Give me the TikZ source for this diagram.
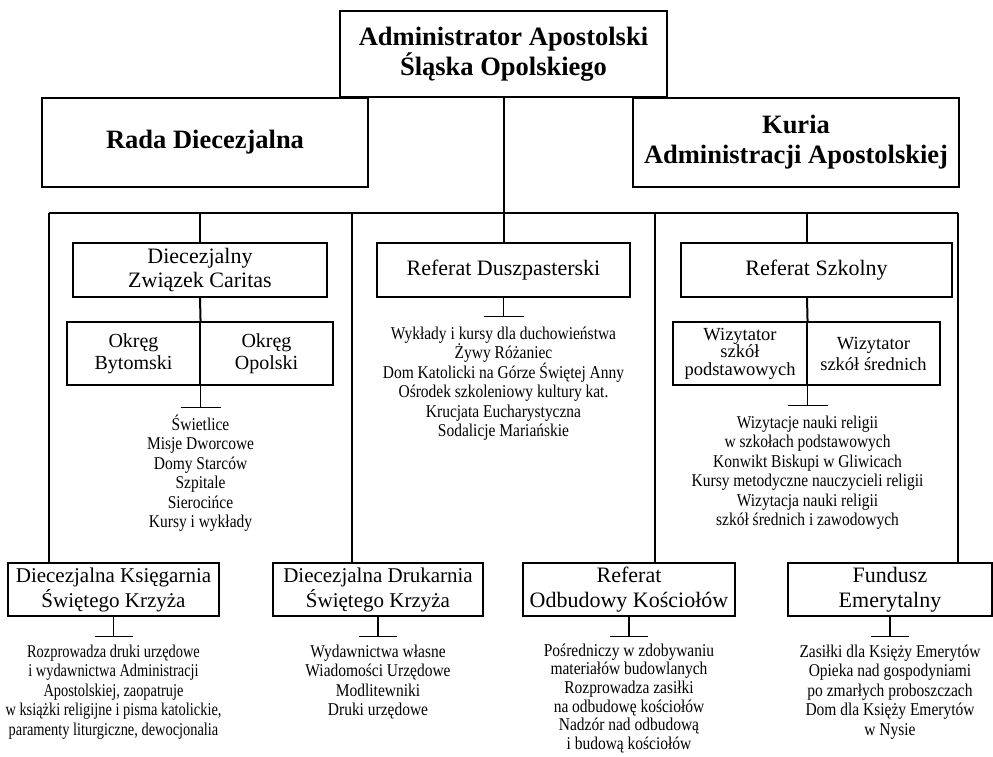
\documentclass[tikz,border=0pt]{standalone}
\usepackage{fontspec}
\setmainfont{Liberation Serif}
\newfontfamily\listfont[FakeStretch=0.86]{Liberation Serif}
\newfontfamily\condfont[FakeStretch=0.80]{Liberation Serif}
\tikzset{
  thickbox/.style={draw, line width=2.8pt, inner sep=0pt, align=center,
    font=\fontsize{26.5}{30}\selectfont\bfseries},
  box/.style={draw, line width=1.1pt, inner sep=0pt, align=center,
    font=\fontsize{22}{24.5}\selectfont},
  halfbox/.style={draw, line width=1.1pt, inner sep=0pt, align=center,
    minimum width=133pt, minimum height=63pt},
  listtext/.style={anchor=north, inner sep=0pt, align=center,
    font=\listfont\fontsize{18}{19.5}\selectfont},
  bus/.style={line width=2pt},
  thinline/.style={line width=1.1pt},
}
\begin{document}
\begin{tikzpicture}[x=1pt,y=-1pt]
\useasboundingbox (0,0) rectangle (993,756);

% top level
\node[thickbox, minimum width=327pt, minimum height=86pt] (admin) at (503.5,54)
  {Administrator Apostolski\\Śląska Opolskiego};
\node[thickbox, minimum width=326pt, minimum height=89pt] (rada) at (205,142.5)
  {Rada Diecezjalna};
\node[thickbox, minimum width=326pt, minimum height=89pt] (kuria) at (796,142.5)
  {Kuria\\Administracji Apostolskiej};

% second level
\node[box, minimum width=254pt, minimum height=54pt] (caritas) at (200,270)
  {Diecezjalny\\Związek Caritas};
\node[halfbox, font=\fontsize{20}{21.5}\selectfont] (okB) at (133.5,353.5) {Okręg\\Bytomski};
\node[halfbox, font=\fontsize{20}{21.5}\selectfont] (okO) at (266.5,353.5) {Okręg\\Opolski};

\node[box, minimum width=253pt, minimum height=54pt] (duszp) at (503.5,270)
  {Referat Duszpasterski};

\node[box, minimum width=271pt, minimum height=54pt] (szk) at (816.5,270)
  {Referat Szkolny};
\node[halfbox, minimum width=134pt, font=\fontsize{18.5}{17.5}\selectfont] (wizP) at (740,353.5)
  {Wizytator\\szkół\\podstawowych};
\node[halfbox, font=\fontsize{18.5}{21}\selectfont] (wizS) at (873.5,353.5)
  {Wizytator\\szkół średnich};

% bottom level
\node[box, minimum width=211pt, minimum height=53pt, font=\fontsize{21}{25}\selectfont] (ksieg) at (113.5,589.5)
  {Diecezjalna Księgarnia\\Świętego Krzyża};
\node[box, minimum width=210pt, minimum height=53pt, font=\fontsize{21}{25}\selectfont] (druk) at (378,589.5)
  {Diecezjalna Drukarnia\\Świętego Krzyża};
\node[box, minimum width=212pt, minimum height=53pt, font=\fontsize{22}{25}\selectfont] (odbud) at (629,589.5)
  {Referat\\Odbudowy Kościołów};
\node[box, minimum width=204pt, minimum height=53pt, font=\fontsize{22}{25}\selectfont] (fund) at (890,589.5)
  {Fundusz\\Emerytalny};

% bus and verticals
\coordinate (busL) at (49,213);
\coordinate (busR) at (958,213);
\coordinate (c2) at (200,213);
\coordinate (c4) at (352,213);
\coordinate (c6) at (655,213);
\coordinate (c7) at (807,213);
\draw[bus] (busL) -- (busR);
\draw[bus] (admin.south) -- (duszp.north);
\draw[bus] (busL) -- (busL |- ksieg.north);
\draw[bus] (c2) -- (caritas.north);
\draw[bus] (c4) -- (c4 |- druk.north);
\draw[bus] (c6) -- (c6 |- odbud.north);
\draw[bus] (c7) -- (c7 |- szk.north);
\draw[bus] (busR) -- (busR |- fund.north);

% caritas branch
\draw[bus] (caritas.south) -- (okB.north east);
\draw[thinline] (okB.south east) -- ++(0,22) coordinate (t1);
\draw[thinline] ([xshift=-20pt]t1) -- ([xshift=20pt]t1);
\node[listtext] (l1) at ([yshift=-7pt]t1)
  {Świetlice\\Misje Dworcowe\\Domy Starców\\Szpitale\\Sierocińce\\Kursy i wykłady};

% duszpasterski branch
\draw[thinline] (duszp.south) -- ++(0,19) coordinate (t2);
\draw[thinline] ([xshift=-20pt]t2) -- ([xshift=20pt]t2);
\node[listtext] (l2) at ([yshift=-10pt]t2)
  {Wykłady i kursy dla duchowieństwa\\Żywy Różaniec\\Dom Katolicki na Górze Świętej Anny\\Ośrodek szkoleniowy kultury kat.\\Krucjata Eucharystyczna\\Sodalicje Mariańskie};

% szkolny branch
\draw[bus] (c7 |- szk.south) -- (wizP.north east);
\draw[thinline] (wizP.south east) -- ++(0,20) coordinate (t3);
\draw[thinline] ([xshift=-20pt]t3) -- ([xshift=20pt]t3);
\node[listtext] (l3) at ([yshift=-10pt]t3)
  {Wizytacje nauki religii\\w szkołach podstawowych\\Konwikt Biskupi w Gliwicach\\Kursy metodyczne nauczycieli religii\\Wizytacja nauki religii\\szkół średnich i zawodowych};

% bottom branches
\draw[thinline] (ksieg.south) -- ++(0,20) coordinate (t4);
\draw[thinline] ([xshift=-19pt]t4) -- ([xshift=19pt]t4);
\node[listtext, font=\condfont\fontsize{18}{19.5}\selectfont] (l4) at ([yshift=-8pt]t4)
  {Rozprowadza druki urzędowe\\i wydawnictwa Administracji\\Apostolskiej, zaopatruje\\w książki religijne i pisma katolickie,\\paramenty liturgiczne, dewocjonalia};

\draw[thinline] (druk.south) -- ++(0,20) coordinate (t5);
\draw[thinline] ([xshift=-19pt]t5) -- ([xshift=19pt]t5);
\node[listtext] (l5) at ([yshift=-8pt]t5)
  {Wydawnictwa własne\\Wiadomości Urzędowe\\Modlitewniki\\Druki urzędowe};

\draw[thinline] (odbud.south) -- ++(0,20) coordinate (t6);
\draw[thinline] ([xshift=-19pt]t6) -- ([xshift=19pt]t6);
\node[listtext, font=\listfont\fontsize{18}{18.6}\selectfont] (l6) at ([yshift=-7pt]t6)
  {Pośredniczy w zdobywaniu\\materiałów budowlanych\\Rozprowadza zasiłki\\na odbudowę kościołów\\Nadzór nad odbudową\\i budową kościołów};

\draw[thinline] (fund.south) -- ++(0,20) coordinate (t7);
\draw[thinline] ([xshift=-19pt]t7) -- ([xshift=19pt]t7);
\node[listtext] (l7) at ([yshift=-8pt]t7)
  {Zasiłki dla Księży Emerytów\\Opieka nad gospodyniami\\po zmarłych proboszczach\\Dom dla Księży Emerytów\\w Nysie};
\end{tikzpicture}
\end{document}
